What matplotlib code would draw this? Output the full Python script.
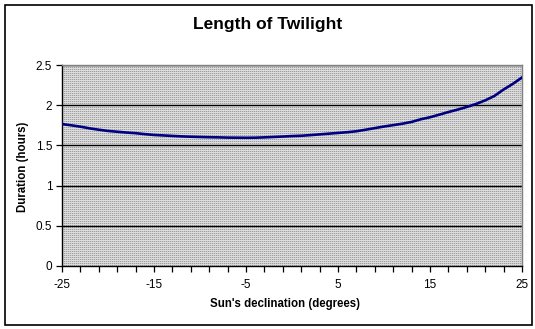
import numpy as np
import matplotlib
matplotlib.use("Agg")
import matplotlib.pyplot as plt
from matplotlib.patches import Rectangle

plt.rcParams['font.family'] = ['Liberation Sans', 'DejaVu Sans']

# Sun's declination (degrees) and duration of twilight (hours)
declination = list(range(-25, 26))
duration = [1.765, 1.750, 1.733, 1.712, 1.695, 1.680, 1.670, 1.660, 1.652, 1.640,
            1.630, 1.624, 1.618, 1.612, 1.608, 1.605, 1.602, 1.600, 1.597, 1.596,
            1.595, 1.596, 1.600, 1.605, 1.610, 1.616, 1.620, 1.628, 1.637, 1.646,
            1.655, 1.664, 1.676, 1.695, 1.715, 1.735, 1.752, 1.770, 1.792, 1.825,
            1.850, 1.882, 1.915, 1.945, 1.978, 2.015, 2.060, 2.115, 2.195, 2.265,
            2.345]

x_ticks = list(range(-25, 26, 2))
x_labels = ['-25', '', '', '', '', '-15', '', '', '', '', '-5', '', '', '',
            '', '5', '', '', '', '', '15', '', '', '', '', '25']
y_ticks = [0, 0.5, 1, 1.5, 2, 2.5]
y_labels = ['0', '0.5', '1', '1.5', '2', '2.5']

W, H = 535, 329
fig = plt.figure(figsize=(W / 100, H / 100), dpi=100)
fig.patch.set_facecolor('white')

# outer chart frame
fig.patches.append(Rectangle((5 / W, 4 / H), 527 / W, 320 / H,
                             transform=fig.transFigure, fill=False,
                             edgecolor='black', linewidth=1.2))

left, right, top, bottom = 62, 522, 65, 266
ax = fig.add_axes([left / W, (H - bottom) / H, (right - left) / W, (bottom - top) / H])

# dotted grey plot-area fill
pw, ph = right - left, bottom - top
pattern = np.full((ph, pw, 3), 0.80)
pattern[::2, ::2] = 0.62
pattern[1::2, :] = 0.87
ax.imshow(pattern, extent=(-25, 25, 0, 2.5), aspect='auto',
          interpolation='nearest', zorder=0)

for yv in y_ticks[1:]:
    ax.axhline(yv, color='black', linewidth=1.0, zorder=1)

ax.plot(declination, duration, color='#000080', linewidth=1.9, zorder=3,
        solid_joinstyle='miter')

ax.set_xlim(-25, 25)
ax.set_ylim(0, 2.5)
ax.set_xticks(x_ticks)
ax.set_xticklabels(x_labels)
ax.set_yticks(y_ticks)
ax.set_yticklabels(y_labels)
ax.tick_params(axis='both', direction='out', length=4, width=0.9,
               labelsize=8.5, colors='black', pad=3)
ax.tick_params(axis='x', pad=5)

for side in ('left', 'bottom'):
    ax.spines[side].set_color('black')
    ax.spines[side].set_linewidth(1.0)
for side in ('top', 'right'):
    ax.spines[side].set_color('#808080')
    ax.spines[side].set_linewidth(1.0)

fig.text(268 / W, 1 - 24 / H, 'Length of Twilight', ha='center', va='center',
         fontsize=12.5, fontweight='bold')
fig.text(285 / W, 1 - 304 / H, "Sun's declination (degrees)", ha='center',
         va='center', fontsize=8.3, fontweight='bold')
fig.text(23 / W, 1 - 167 / H, 'Duration (hours)', ha='center', va='center',
         rotation=90, fontsize=8.3, fontweight='bold')

fig.savefig('out.png', dpi=100)
